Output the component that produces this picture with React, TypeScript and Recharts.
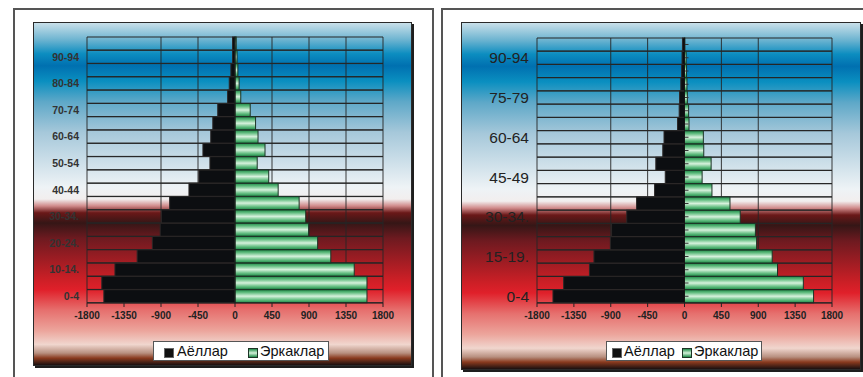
import React from "react";
import { BarChart, Bar, XAxis, YAxis, CartesianGrid, ReferenceLine } from "recharts";

// age groups, youngest first (drawn bottom-up)
const ageGroups = [
  "0-4", "5-9", "10-14.", "15-19.", "20-24.", "25-29", "30-34.", "35-39", "40-44", "45-49",
  "50-54", "55-59", "60-64", "65-69", "70-74", "75-79", "80-84", "85-89", "90-94", "95-99",
];

const womenA = [1595, 1620, 1460, 1190, 1005, 910, 895, 795, 560, 440, 305, 390, 295, 270, 210, 90, 70, 50, 30, 30];
const menA   = [1605, 1605, 1450, 1165, 1005, 895, 860, 780, 525, 410, 270, 365, 280, 250, 185, 70, 50, 35, 25, 15];

const womenB = [1605, 1475, 1160, 1105, 905, 890, 705, 585, 365, 235, 350, 265, 250, 85, 65, 60, 45, 35, 30, 25];
const menB   = [1575, 1450, 1135, 1070, 880, 865, 680, 555, 335, 215, 325, 235, 230, 55, 50, 35, 30, 25, 20, 5];

const xTicks = [-1800, -1350, -900, -450, 0, 450, 900, 1350, 1800];
const seriesNames = ["Аёллар", "Эркаклар"];

const FONT = "'Liberation Sans', Arial, sans-serif";
const GRID = "#262626";

const BG = `linear-gradient(to bottom,
  #c9e0ea 0%, #6bb3d0 5%, #0c8dc0 9%, #0070b0 12.5%, #0a8fc0 17%, #5ea8c8 23%,
  #a6c8da 32%, #eef3f6 48%, #f2eeee 51.5%, #d08a8a 53.5%, #6a1818 55.5%, #351616 58.5%,
  #6e1a20 63%, #cc1f26 75%, #e0202a 78%, #e6706e 84%, #eca59c 90%, #f0d6ce 94%,
  #b89080 96.5%, #8a3a1e 98%, #1a1010 100%)`;

const toRows = (women: number[], men: number[]) =>
  ageGroups.map((age, i) => ({ age, women: -women[i], men: men[i] }));

// bars on the negative side come with a negative width
const norm = (x: number, width: number) => (width < 0 ? { rx: x + width, rw: -width } : { rx: x, rw: width });

// women bar; also rules the row edges across the whole plot from the bar's background band
const WomenBar = (props: any) => {
  const { x, y, width, height, background } = props;
  const { rx, rw } = norm(x, width);
  return (
    <g>
      {background && (
        <>
          <line x1={background.x} x2={background.x + background.width} y1={background.y} y2={background.y} stroke={GRID} strokeWidth={1} />
          <line x1={background.x} x2={background.x + background.width} y1={background.y + background.height}
            y2={background.y + background.height} stroke={GRID} strokeWidth={1} />
        </>
      )}
      <rect x={rx} y={y} width={rw} height={height} fill="#0c0e11" stroke="#2b2727" strokeWidth={1} />
    </g>
  );
};

// men bar, optionally with a small category tick on the zero line
const makeMenBar = (withTick: boolean) => (props: any) => {
  const { x, y, width, height } = props;
  const { rx, rw } = norm(x, width);
  return (
    <g>
      <rect x={rx} y={y} width={rw} height={height} fill="url(#menFill)" stroke="#1d3326" strokeWidth={1} />
      {withTick && <line x1={rx} x2={rx + 4} y1={y + height / 2} y2={y + height / 2} stroke="#333" strokeWidth={1} />}
    </g>
  );
};

function Pyramid({
  women, men, width, height, margin, yWidth, interval, yTick, withTicks = false,
}: {
  women: number[]; men: number[]; width: number; height: number;
  margin: { top: number; right: number; bottom: number; left: number };
  yWidth: number; interval: number; yTick: any; withTicks?: boolean;
}) {
  const data = toRows(women, men);
  return (
    <BarChart width={width} height={height} data={data} layout="vertical" margin={margin}
      stackOffset="sign" barCategoryGap={0} barGap={0}>
      <CartesianGrid horizontal={false} stroke={GRID} strokeOpacity={0.9} />
      <XAxis type="number" domain={[-1800, 1800]} ticks={xTicks} allowDataOverflow
        tickSize={4} tickMargin={5} axisLine={{ stroke: "#222" }} tickLine={{ stroke: "#222" }}
        tick={{ fontSize: 10, fontWeight: "bold", fill: "#222", fontFamily: FONT }} />
      <YAxis type="category" dataKey="age" reversed width={yWidth} interval={interval}
        axisLine={false} tickLine={false} tick={yTick} />
      <Bar dataKey="women" stackId="p" shape={WomenBar} isAnimationActive={false} />
      <Bar dataKey="men" stackId="p" shape={makeMenBar(withTicks)} isAnimationActive={false} />
      <ReferenceLine x={0} stroke="#151515" strokeWidth={1} />
    </BarChart>
  );
}

function LegendBox({ left, top, width, sq2, txt2, sq1, txt1 }: any) {
  const sq = (x: number, fill: string, border: string) => (
    <div style={{ position: "absolute", left: x, top: 6, width: 8, height: 8, background: fill, border: `1px solid ${border}` }} />
  );
  const txt = (x: number, s: string) => (
    <span style={{ position: "absolute", left: x, top: 1, fontSize: 14.5, lineHeight: "17px", color: "#111", fontFamily: FONT }}>{s}</span>
  );
  return (
    <div style={{ position: "absolute", left, top, width, height: 20, background: "#fff", border: "1px solid #555", boxSizing: "border-box" }}>
      {sq(sq1, "#111", "#666")}
      {txt(txt1, seriesNames[0])}
      {sq(sq2, "linear-gradient(to bottom,#1f8a48,#d4f0da,#1f8a48)", "#1d3326")}
      {txt(txt2, seriesNames[1])}
    </div>
  );
}

export default function App() {
  const boxStyle = (left: number, top: number, w: number, h: number): React.CSSProperties => ({
    position: "absolute", left, top, width: w, height: h, background: BG,
    boxShadow: "0 0 0 1px #2a2a2a, 2px 2px 0 1px #1e1e1e",
  });
  return (
    <div style={{ position: "absolute", left: 0, top: 0, width: 863, height: 377, background: "#fff", overflow: "hidden", fontFamily: FONT }}>
      <svg width={0} height={0} style={{ position: "absolute" }}>
        <defs>
          <linearGradient id="menFill" x1="0" y1="0" x2="0" y2="1">
            <stop offset="0%" stopColor="#1f8a48" />
            <stop offset="22%" stopColor="#62bd80" />
            <stop offset="50%" stopColor="#d6f1dc" />
            <stop offset="78%" stopColor="#62bd80" />
            <stop offset="100%" stopColor="#1f8a48" />
          </linearGradient>
        </defs>
      </svg>

      {/* outer frames */}
      <div style={{ position: "absolute", left: 13, top: 8, width: 417, height: 400, border: "2px solid #555", borderBottom: "none" }} />
      <div style={{ position: "absolute", left: 441, top: 8, width: 440, height: 400, border: "2px solid #555", borderBottom: "none" }} />

      <div style={boxStyle(34, 23, 377, 342)}>
        <Pyramid women={womenA} men={menA} width={377} height={342}
          margin={{ top: 14, right: 28, bottom: 32, left: 0 }} yWidth={53} interval={1}
          yTick={{ fontSize: 10.5, fontWeight: "bold", fill: "#333", fontFamily: FONT }} />
        <LegendBox left={119} top={318} width={176} sq1={10} txt1={23} sq2={94} txt2={106} />
      </div>

      <div style={boxStyle(462, 23, 398, 346)}>
        <Pyramid women={womenB} men={menB} width={398} height={346}
          margin={{ top: 15, right: 28, bottom: 36, left: 0 }} yWidth={75} interval={2} withTicks
          yTick={{ fontSize: 15.5, fill: "#222", fontFamily: FONT }} />
        <LegendBox left={144} top={318} width={156} sq1={5} txt1={17} sq2={75} txt2={87} />
      </div>
    </div>
  );
}
